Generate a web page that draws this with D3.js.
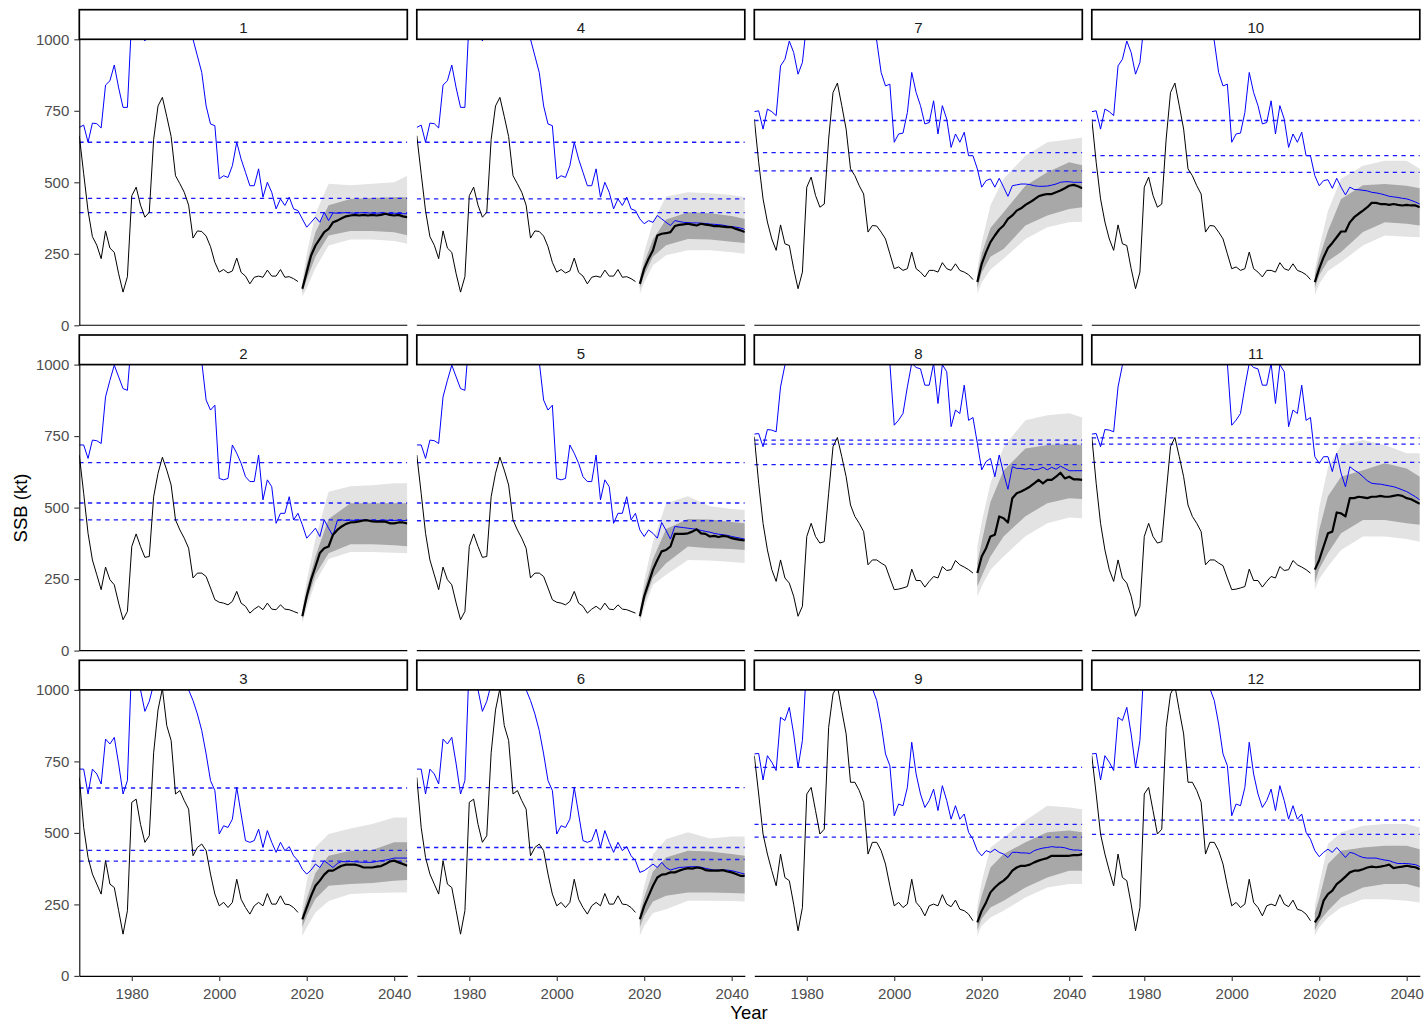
<!DOCTYPE html>
<html>
<head>
<meta charset="utf-8">
<script src="https://cdn.jsdelivr.net/npm/d3@7"></script>
<style>
  body { margin: 0; background: #fff; }
  svg { display: block; }
  text { font-family: "Liberation Sans", Arial, sans-serif; }
</style>
</head>
<body>
<svg id="chart" width="1427" height="1024"></svg>
<script>
// ---- Years and ticks ----
const histYears = d3.range(1968, 2019);   // assessment years 1968–2018
const projYears = d3.range(2019, 2044);   // projection years 2019–2043
const bandYears = [2019, 2020, 2022, 2025, 2030, 2035, 2040, 2043];
const yTicks = [0, 250, 500, 750, 1000];
const xTicks = [1980, 2000, 2020, 2040];

// ---- Historical SSB (kt), shared by scenario pairs ----
const ssbHistA = [663, 530, 400, 310, 280, 233, 330, 270, 255, 180, 116, 170, 453, 483, 420, 378, 395, 650, 767, 797, 730, 660, 523, 495, 465, 420, 305, 330, 328, 312, 275, 220, 186, 195, 183, 190, 235, 185, 172, 145, 168, 172, 168, 193, 172, 172, 195, 168, 170, 163, 153];
const ssbHistB = [684, 550, 410, 317, 265, 213, 292, 248, 230, 166, 108, 137, 364, 408, 364, 326, 329, 538, 620, 676, 631, 579, 457, 422, 393, 358, 254, 271, 271, 259, 219, 178, 169, 166, 160, 172, 207, 166, 155, 131, 145, 155, 143, 166, 145, 143, 160, 145, 143, 137, 131];
const ssbHistC = [694, 519, 414, 356, 321, 286, 403, 321, 309, 228, 146, 228, 607, 618, 530, 467, 490, 780, 930, 1005, 875, 823, 636, 648, 613, 583, 420, 449, 461, 438, 356, 286, 245, 257, 239, 257, 338, 268, 239, 216, 245, 257, 245, 288, 251, 251, 280, 251, 249, 239, 222];
const ssbHistD = [721, 570, 442, 361, 302, 262, 351, 285, 279, 198, 128, 186, 483, 518, 454, 413, 424, 651, 814, 847, 768, 686, 547, 523, 488, 459, 326, 349, 347, 326, 302, 250, 198, 204, 192, 198, 256, 198, 186, 169, 192, 192, 186, 219, 198, 192, 215, 192, 186, 177, 160];
const ssbHistE = [748, 585, 445, 352, 283, 242, 317, 254, 236, 190, 120, 155, 399, 445, 399, 376, 381, 550, 713, 745, 678, 608, 509, 469, 445, 416, 300, 317, 317, 306, 297, 254, 213, 215, 219, 224, 285, 245, 245, 222, 242, 259, 254, 294, 280, 283, 315, 300, 292, 283, 271];
const ssbHistF = [770, 636, 496, 426, 368, 315, 426, 344, 333, 251, 158, 239, 636, 659, 578, 496, 513, 869, 986, 1015, 928, 846, 677, 677, 648, 607, 426, 467, 467, 438, 391, 315, 245, 257, 239, 251, 338, 257, 239, 210, 245, 251, 245, 284, 251, 242, 265, 233, 228, 216, 193];

// ---- Dynamic unfished SSB (kt), 1968–2018 ----
const b0HistA = [692, 700, 640, 707, 705, 690, 840, 855, 910, 830, 762, 762, 1080, 1100, 1060, 994, 1100, 1150, 1200, 1250, 1250, 1200, 1200, 1150, 1100, 1050, 1000, 942, 884, 767, 704, 698, 512, 523, 517, 558, 640, 581, 535, 488, 488, 547, 448, 500, 465, 407, 442, 419, 448, 407, 401];
const b0HistB = [719, 719, 672, 736, 734, 724, 887, 945, 998, 957, 916, 910, 1100, 1150, 1200, 1200, 1250, 1250, 1300, 1300, 1250, 1250, 1200, 1200, 1150, 1100, 1100, 1050, 1010, 876, 841, 858, 602, 597, 602, 719, 690, 655, 608, 591, 591, 684, 527, 597, 573, 445, 480, 480, 538, 457, 480];
const b0HistC = [723, 723, 636, 723, 706, 671, 828, 811, 834, 741, 636, 683, 1100, 1060, 1000, 925, 960, 1020, 1100, 1150, 1150, 1150, 1100, 1100, 1050, 1000, 963, 916, 858, 776, 683, 648, 496, 525, 519, 548, 659, 566, 473, 467, 473, 513, 449, 508, 467, 432, 467, 438, 452, 420, 403];
const b0HistD = [747, 750, 686, 756, 747, 733, 907, 930, 994, 954, 878, 919, 1060, 1100, 1150, 1200, 1200, 1250, 1300, 1300, 1250, 1250, 1200, 1200, 1150, 1100, 1100, 1050, 994, 884, 837, 843, 640, 669, 672, 744, 884, 814, 768, 704, 709, 785, 669, 768, 721, 622, 669, 640, 675, 593, 593];
const b0HistE = [757, 759, 713, 773, 771, 765, 922, 998, 1060, 1100, 1150, 1200, 1250, 1250, 1300, 1300, 1300, 1350, 1350, 1350, 1300, 1300, 1250, 1250, 1200, 1200, 1150, 1150, 1100, 1100, 1050, 1005, 788, 806, 829, 922, 1005, 990, 985, 928, 928, 1005, 864, 1000, 975, 783, 841, 829, 928, 805, 815];
const b0HistF = [776, 778, 685, 770, 747, 718, 904, 893, 939, 846, 729, 823, 1100, 1080, 1150, 1200, 1250, 1300, 1300, 1300, 1250, 1250, 1200, 1200, 1150, 1100, 1050, 1005, 963, 881, 776, 735, 560, 601, 595, 659, 817, 706, 636, 589, 613, 653, 578, 665, 613, 548, 595, 548, 566, 502, 478];

// ---- Projected median SSB (kt), 2019–2043 ----
const ssbProj1  = [128, 186, 244, 279, 302, 326, 337, 360, 366, 374, 381, 384, 386, 384, 386, 384, 386, 384, 386, 390, 386, 384, 386, 381, 378];
const ssbProj2  = [120, 190, 248, 294, 341, 358, 364, 405, 422, 434, 443, 448, 449, 452, 455, 455, 452, 451, 451, 451, 445, 445, 448, 448, 445];
const ssbProj3  = [198, 239, 280, 315, 333, 354, 368, 368, 377, 385, 389, 389, 389, 385, 379, 379, 379, 382, 384, 391, 400, 403, 397, 391, 385];
const ssbProj4  = [145, 198, 233, 262, 314, 320, 322, 326, 347, 351, 353, 355, 352, 349, 355, 352, 350, 347, 347, 345, 343, 343, 337, 332, 326];
const ssbProj5  = [120, 190, 236, 283, 317, 347, 352, 364, 408, 408, 408, 410, 416, 424, 410, 408, 399, 401, 397, 401, 399, 393, 390, 387, 385];
const ssbProj6  = [198, 245, 280, 315, 344, 354, 356, 362, 362, 368, 373, 377, 375, 379, 377, 370, 368, 368, 368, 370, 365, 362, 356, 350, 350];
const ssbProj7  = [151, 215, 256, 291, 314, 335, 349, 372, 384, 401, 409, 421, 430, 440, 451, 456, 459, 459, 465, 471, 479, 488, 491, 486, 479];
const ssbProj8  = [271, 329, 358, 399, 405, 469, 463, 448, 533, 550, 556, 564, 573, 585, 597, 585, 597, 597, 608, 622, 602, 608, 599, 599, 597];
const ssbProj9  = [187, 228, 257, 292, 309, 323, 333, 347, 368, 379, 385, 385, 389, 397, 403, 408, 412, 420, 420, 420, 420, 420, 422, 422, 426];
const ssbProj10 = [151, 198, 238, 270, 288, 308, 328, 328, 360, 378, 390, 401, 413, 428, 428, 424, 424, 421, 424, 421, 419, 421, 419, 419, 413];
const ssbProj11 = [283, 317, 364, 410, 416, 483, 480, 469, 533, 533, 538, 536, 533, 538, 538, 541, 538, 538, 541, 544, 541, 533, 529, 521, 513];
const ssbProj12 = [187, 210, 263, 286, 298, 321, 333, 347, 362, 368, 368, 373, 379, 382, 380, 382, 385, 389, 377, 380, 382, 385, 382, 380, 373];

// ---- Projected dynamic unfished SSB (kt), 2019–2043 ----
const b0Proj1  = [372, 343, 360, 378, 360, 395, 366, 393, 392, 393, 394, 393, 392, 393, 394, 393, 392, 392, 393, 392, 391, 392, 391, 390, 390];
const b0Proj2  = [440, 393, 410, 428, 399, 457, 428, 401, 455, 457, 455, 456, 455, 457, 456, 455, 456, 455, 455, 456, 455, 455, 456, 455, 455];
const b0Proj3  = [373, 356, 370, 391, 379, 403, 391, 379, 393, 400, 399, 400, 399, 398, 397, 397, 397, 400, 403, 405, 408, 412, 412, 412, 412];
const b0Proj4  = [372, 355, 366, 360, 384, 372, 360, 349, 366, 363, 360, 359, 358, 358, 357, 356, 354, 353, 352, 350, 347, 345, 343, 340, 335];
const b0Proj5  = [422, 399, 422, 410, 393, 448, 420, 390, 434, 432, 430, 428, 426, 424, 420, 417, 414, 410, 407, 405, 403, 399, 396, 393, 390];
const b0Proj6  = [362, 368, 379, 391, 379, 397, 379, 370, 375, 379, 380, 381, 382, 382, 380, 376, 373, 370, 370, 370, 370, 368, 364, 360, 356];
const b0Proj7  = [547, 483, 506, 512, 483, 514, 483, 451, 488, 491, 494, 494, 492, 488, 486, 486, 487, 490, 494, 500, 502, 502, 500, 500, 500];
const b0Proj8  = [725, 632, 661, 672, 608, 684, 620, 564, 643, 637, 637, 634, 637, 632, 634, 641, 632, 641, 634, 645, 637, 629, 629, 629, 629];
const b0Proj9  = [438, 420, 438, 432, 443, 432, 426, 414, 432, 432, 430, 430, 428, 438, 443, 447, 449, 452, 450, 450, 448, 443, 440, 440, 438];
const b0Proj10 = [523, 488, 506, 509, 479, 514, 483, 456, 483, 475, 474, 472, 470, 465, 463, 460, 456, 451, 449, 447, 444, 442, 437, 431, 424];
const b0Proj11 = [678, 655, 678, 678, 626, 690, 620, 573, 643, 631, 622, 608, 594, 585, 583, 582, 579, 576, 573, 568, 562, 556, 547, 538, 527];
const b0Proj12 = [438, 417, 432, 443, 432, 449, 432, 414, 432, 428, 420, 414, 412, 412, 412, 408, 405, 403, 397, 393, 393, 393, 391, 389, 382];

// ---- Projection intervals (kt) at bandYears: 90% and 50% ----
const lo90_1 = [100, 130, 200, 279, 300, 300, 295, 285];
const lo50_1 = [115, 160, 240, 314, 330, 330, 325, 315];
const hi50_1 = [140, 215, 325, 420, 442, 445, 448, 448];
const hi90_1 = [155, 250, 390, 495, 490, 495, 500, 523];

const lo90_2 = [95, 150, 240, 320, 345, 345, 342, 340];
const lo50_2 = [110, 170, 265, 340, 372, 372, 368, 365];
const hi50_2 = [135, 215, 330, 460, 515, 515, 515, 515];
const hi90_2 = [150, 245, 390, 555, 575, 578, 585, 585];

const lo90_3 = [140, 169, 222, 262, 286, 290, 292, 292];
const lo50_3 = [170, 210, 270, 315, 321, 325, 333, 335];
const hi50_3 = [215, 270, 360, 420, 438, 440, 467, 467];
const hi90_3 = [240, 330, 450, 496, 515, 531, 554, 554];

const lo90_4 = [110, 150, 210, 245, 262, 262, 255, 250];
const lo50_4 = [130, 175, 240, 280, 302, 300, 292, 288];
const hi50_4 = [160, 220, 300, 370, 395, 392, 382, 372];
const hi90_4 = [175, 255, 360, 450, 465, 462, 456, 448];

const lo90_5 = [95, 150, 230, 265, 317, 315, 310, 306];
const lo50_5 = [110, 170, 255, 305, 364, 358, 355, 352];
const hi50_5 = [135, 215, 320, 425, 460, 458, 450, 445];
const hi90_5 = [150, 245, 380, 515, 540, 505, 495, 492];

const lo90_6 = [140, 175, 220, 233, 263, 263, 262, 260];
const lo50_6 = [170, 210, 260, 280, 292, 292, 290, 288];
const hi50_6 = [215, 275, 365, 414, 438, 435, 426, 420];
const hi90_6 = [240, 315, 425, 478, 502, 480, 487, 487];

const lo90_7 = [110, 150, 195, 233, 302, 343, 360, 362];
const lo50_7 = [130, 185, 240, 267, 349, 384, 407, 413];
const hi50_7 = [175, 250, 340, 395, 488, 535, 570, 560];
const hi90_7 = [195, 290, 420, 512, 593, 640, 650, 657];

const lo90_8 = [190, 225, 283, 329, 400, 445, 465, 463];
const lo50_8 = [224, 260, 329, 399, 470, 515, 533, 530];
const hi50_8 = [306, 380, 520, 630, 707, 719, 722, 719];
const hi90_8 = [364, 450, 585, 713, 805, 823, 830, 815];

const lo90_9 = [140, 175, 204, 228, 274, 309, 321, 321];
const lo50_9 = [160, 200, 239, 263, 309, 344, 368, 368];
const hi50_9 = [220, 280, 379, 426, 467, 502, 508, 502];
const hi90_9 = [245, 330, 449, 484, 543, 595, 589, 583];

const lo90_10 = [105, 145, 190, 221, 279, 314, 310, 308];
const lo50_10 = [130, 175, 225, 256, 326, 360, 355, 349];
const hi50_10 = [175, 235, 330, 442, 490, 494, 488, 479];
const hi90_10 = [195, 270, 400, 512, 558, 575, 575, 547];

const lo90_11 = [213, 250, 294, 352, 399, 399, 390, 381];
const lo50_11 = [236, 285, 341, 410, 457, 457, 445, 440];
const hi50_11 = [330, 422, 540, 608, 631, 655, 637, 608];
const hi90_11 = [380, 500, 640, 719, 736, 719, 690, 690];

const lo90_12 = [140, 170, 204, 239, 268, 268, 263, 257];
const lo50_12 = [160, 190, 228, 274, 309, 321, 321, 309];
const hi50_12 = [220, 270, 391, 438, 449, 455, 455, 443];
const hi90_12 = [245, 320, 461, 502, 525, 531, 531, 519];

// ---- Reference points (kt), drawn as dashed lines ----
const refs1  = [640, 444, 394];
const refs2  = [657, 516, 457];
const refs3  = [657, 439, 401];
const refs4  = [640, 442, 394];
const refs5  = [657, 516, 454];
const refs6  = [658, 449, 407];
const refs7  = [716, 604, 540];
const refs8  = [736, 722, 650];
const refs9  = [729, 530, 485];
const refs10 = [716, 593, 535];
const refs11 = [744, 722, 658];
const refs12 = [729, 545, 495];

// ---- Facet table built from the arrays above ----
const facets = [
  { label: "1",  ssbHist: ssbHistA, b0Hist: b0HistA, ssbProj: ssbProj1,  b0Proj: b0Proj1,  lo90: lo90_1,  lo50: lo50_1,  hi50: hi50_1,  hi90: hi90_1,  refs: refs1 },
  { label: "2",  ssbHist: ssbHistB, b0Hist: b0HistB, ssbProj: ssbProj2,  b0Proj: b0Proj2,  lo90: lo90_2,  lo50: lo50_2,  hi50: hi50_2,  hi90: hi90_2,  refs: refs2 },
  { label: "3",  ssbHist: ssbHistC, b0Hist: b0HistC, ssbProj: ssbProj3,  b0Proj: b0Proj3,  lo90: lo90_3,  lo50: lo50_3,  hi50: hi50_3,  hi90: hi90_3,  refs: refs3 },
  { label: "4",  ssbHist: ssbHistA, b0Hist: b0HistA, ssbProj: ssbProj4,  b0Proj: b0Proj4,  lo90: lo90_4,  lo50: lo50_4,  hi50: hi50_4,  hi90: hi90_4,  refs: refs4 },
  { label: "5",  ssbHist: ssbHistB, b0Hist: b0HistB, ssbProj: ssbProj5,  b0Proj: b0Proj5,  lo90: lo90_5,  lo50: lo50_5,  hi50: hi50_5,  hi90: hi90_5,  refs: refs5 },
  { label: "6",  ssbHist: ssbHistC, b0Hist: b0HistC, ssbProj: ssbProj6,  b0Proj: b0Proj6,  lo90: lo90_6,  lo50: lo50_6,  hi50: hi50_6,  hi90: hi90_6,  refs: refs6 },
  { label: "7",  ssbHist: ssbHistD, b0Hist: b0HistD, ssbProj: ssbProj7,  b0Proj: b0Proj7,  lo90: lo90_7,  lo50: lo50_7,  hi50: hi50_7,  hi90: hi90_7,  refs: refs7 },
  { label: "8",  ssbHist: ssbHistE, b0Hist: b0HistE, ssbProj: ssbProj8,  b0Proj: b0Proj8,  lo90: lo90_8,  lo50: lo50_8,  hi50: hi50_8,  hi90: hi90_8,  refs: refs8 },
  { label: "9",  ssbHist: ssbHistF, b0Hist: b0HistF, ssbProj: ssbProj9,  b0Proj: b0Proj9,  lo90: lo90_9,  lo50: lo50_9,  hi50: hi50_9,  hi90: hi90_9,  refs: refs9 },
  { label: "10", ssbHist: ssbHistD, b0Hist: b0HistD, ssbProj: ssbProj10, b0Proj: b0Proj10, lo90: lo90_10, lo50: lo50_10, hi50: hi50_10, hi90: hi90_10, refs: refs10 },
  { label: "11", ssbHist: ssbHistE, b0Hist: b0HistE, ssbProj: ssbProj11, b0Proj: b0Proj11, lo90: lo90_11, lo50: lo50_11, hi50: hi50_11, hi90: hi90_11, refs: refs11 },
  { label: "12", ssbHist: ssbHistF, b0Hist: b0HistF, ssbProj: ssbProj12, b0Proj: b0Proj12, lo90: lo90_12, lo50: lo50_12, hi50: hi50_12, hi90: hi90_12, refs: refs12 }
];

// ---- Layout ----
const panelW = 328, panelH = 286, stripH = 29.6;
const colX = [79.3, 416.8, 754.3, 1091.8];
const rowY = [39.3, 364.6, 689.9];
const nRows = 3;

const x = d3.scaleLinear().domain([1968, 2043]).range([0, panelW]);
const y = d3.scaleLinear().domain([0, 1000]).range([panelH, 0]);

const svg = d3.select("#chart");
const defs = svg.append("defs");
defs.append("clipPath").attr("id", "panel-clip")
  .append("rect").attr("x", 0).attr("y", 0).attr("width", panelW).attr("height", panelH);

const line = d3.line().x(d => x(d.year)).y(d => y(d.value));
const outerArea = d3.area().x(d => x(d.year)).y0(d => y(d.lo90)).y1(d => y(d.hi90));
const innerArea = d3.area().x(d => x(d.year)).y0(d => y(d.lo50)).y1(d => y(d.hi50));

facets.forEach((f, i) => {
  const col = Math.floor(i / nRows);
  const row = i % nRows;
  const g = svg.append("g").attr("transform", `translate(${colX[col]},${rowY[row]})`);
  const plot = g.append("g").attr("clip-path", "url(#panel-clip)");

  const band = bandYears.map((yr, k) => ({ year: yr, lo90: f.lo90[k], lo50: f.lo50[k], hi50: f.hi50[k], hi90: f.hi90[k] }));
  plot.append("path").datum(band).attr("d", outerArea).attr("fill", "#e3e3e3");
  plot.append("path").datum(band).attr("d", innerArea).attr("fill", "#a8a8a8");

  // reference points
  plot.selectAll("line.ref").data(f.refs).enter().append("line")
    .attr("class", "ref")
    .attr("x1", 0).attr("x2", panelW)
    .attr("y1", d => y(d)).attr("y2", d => y(d))
    .attr("stroke", "#1a1aff").attr("stroke-width", 1.3)
    .attr("stroke-dasharray", "4.3,4.3");

  // dynamic unfished SSB, history + projection
  const b0 = histYears.map((yr, k) => ({ year: yr, value: f.b0Hist[k] }))
    .concat(projYears.map((yr, k) => ({ year: yr, value: f.b0Proj[k] })));
  plot.append("path").datum(b0).attr("d", line)
    .attr("fill", "none").attr("stroke", "#0000ff").attr("stroke-width", 1);

  // historical SSB
  plot.append("path").datum(histYears.map((yr, k) => ({ year: yr, value: f.ssbHist[k] })))
    .attr("d", line).attr("fill", "none").attr("stroke", "#000").attr("stroke-width", 1);

  // projected median SSB
  plot.append("path").datum(projYears.map((yr, k) => ({ year: yr, value: f.ssbProj[k] })))
    .attr("d", line).attr("fill", "none").attr("stroke", "#000").attr("stroke-width", 2.2)
    .attr("stroke-linejoin", "round");

  // axes
  if (row === nRows - 1) {
    const ax = g.append("g").attr("transform", `translate(0,${panelH})`)
      .call(d3.axisBottom(x).tickValues(xTicks).tickFormat(d3.format("d")).tickSize(5).tickSizeOuter(0).tickPadding(7));
    ax.select(".domain").attr("stroke", "#000").attr("stroke-width", 1.1);
    ax.selectAll(".tick line").attr("stroke", "#333").attr("stroke-width", 1.1);
    ax.selectAll(".tick text").attr("fill", "#4d4d4d").style("font-size", "15px");
  } else {
    g.append("line").attr("x1", 0).attr("x2", panelW).attr("y1", panelH).attr("y2", panelH)
      .attr("stroke", "#000").attr("stroke-width", 1.1);
  }
  if (col === 0) {
    const ay = g.append("g")
      .call(d3.axisLeft(y).tickValues(yTicks).tickFormat(d3.format("d")).tickSize(5).tickSizeOuter(0).tickPadding(5));
    ay.select(".domain").attr("stroke", "#000").attr("stroke-width", 1.1);
    ay.selectAll(".tick line").attr("stroke", "#333").attr("stroke-width", 1.1);
    ay.selectAll(".tick text").attr("fill", "#4d4d4d").style("font-size", "15px");
  }

  // facet strip
  g.append("rect").attr("x", 0).attr("y", -stripH).attr("width", panelW).attr("height", stripH)
    .attr("fill", "#fff").attr("stroke", "#000").attr("stroke-width", 1.7);
  g.append("text").attr("x", panelW / 2).attr("y", -stripH + 23.6)
    .attr("text-anchor", "middle").attr("fill", "#1a1a1a").style("font-size", "15px")
    .text(f.label);
});

// axis titles
svg.append("text").attr("x", 749).attr("y", 1019).attr("text-anchor", "middle")
  .attr("fill", "#000").style("font-size", "18.5px").text("Year");
svg.append("text").attr("transform", "translate(27,508) rotate(-90)").attr("text-anchor", "middle")
  .attr("fill", "#000").style("font-size", "18.5px").text("SSB (kt)");
</script>
</body>
</html>
